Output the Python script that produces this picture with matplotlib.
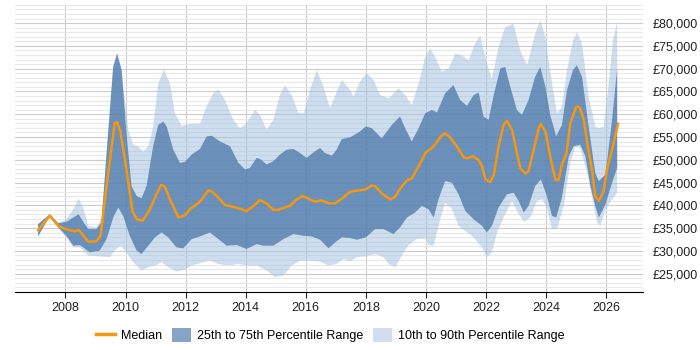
import matplotlib
matplotlib.use("Agg")
import matplotlib.pyplot as plt
import matplotlib.ticker as mticker
from matplotlib.patches import Patch
from matplotlib.lines import Line2D
import numpy as np

plt.rcParams['font.family'] = ['Liberation Sans', 'DejaVu Sans']

# median salary
med_years = [2007.09, 2007.48, 2007.76, 2008.0, 2008.31, 2008.44, 2008.76, 2009.03, 2009.17, 2009.37,
             2009.64, 2009.72, 2009.83, 2010.03, 2010.23, 2010.37, 2010.57, 2010.81, 2011.03, 2011.18,
             2011.31, 2011.48, 2011.76, 2011.98, 2012.14, 2012.48, 2012.76, 2012.89, 2013.09, 2013.31,
             2013.70, 2014.03, 2014.26, 2014.48, 2014.70, 2014.92, 2015.09, 2015.26, 2015.48, 2015.70,
             2015.89, 2016.09, 2016.31, 2016.53, 2016.76, 2016.98, 2017.20, 2017.48, 2018.0, 2018.2,
             2018.31, 2018.53, 2018.81, 2018.98, 2019.14, 2019.37, 2019.53, 2019.76, 2020.0, 2020.2,
             2020.34, 2020.48, 2020.64, 2020.81, 2021.03, 2021.26, 2021.37, 2021.57, 2021.76, 2021.87,
             2021.98, 2022.14, 2022.26, 2022.42, 2022.59, 2022.70, 2022.87, 2023.03, 2023.14, 2023.31,
             2023.42, 2023.59, 2023.76, 2023.83, 2023.98, 2024.14, 2024.31, 2024.42, 2024.53, 2024.68,
             2024.81, 2025.01, 2025.12, 2025.26, 2025.39, 2025.53, 2025.64, 2025.76, 2025.92, 2026.03,
             2026.2, 2026.4]
median = [34560, 37690, 35500, 34780, 34270, 34630, 32020, 32100, 33330, 44230,
          58040, 58260, 56230, 47870, 38780, 36960, 36600, 39140, 42410, 44450,
          44090, 41320, 37330, 37830, 39140, 40810, 43280, 42990, 41690, 40090,
          39510, 38710, 39870, 41180, 40380, 39000, 39000, 39430, 39870, 41320,
          42050, 41470, 40810, 41110, 40450, 40450, 41470, 42990, 43500, 44380,
          44230, 42630, 41320, 41900, 43650, 45470, 45900, 48590, 51650, 52590,
          53680, 54990, 55860, 54920, 52960, 50560, 50340, 50780, 49910, 48590,
          45830, 45100, 46630, 52960, 57680, 58550, 56590, 51500, 48230, 46990,
          47500, 52230, 56950, 57830, 56230, 50780, 45680, 45540, 48950, 51350,
          58040, 61670, 61530, 58770, 52960, 47870, 42050, 40960, 43140, 47870,
          52230, 57900]

# 75th percentile
p75_years = [2007.09, 2007.48, 2007.76, 2008.03, 2008.26, 2008.44, 2008.59, 2008.76, 2009.03, 2009.2,
             2009.37, 2009.59, 2009.72, 2009.87, 2010.03, 2010.2, 2010.37, 2010.53, 2010.7, 2010.92,
             2011.09, 2011.26, 2011.37, 2011.59, 2011.81, 2011.98, 2012.2, 2012.48, 2012.7, 2012.87,
             2013.14, 2013.48, 2013.76, 2013.98, 2014.14, 2014.37, 2014.48, 2014.70, 2014.92, 2015.14,
             2015.37, 2015.59, 2015.81, 2016.03, 2016.26, 2016.48, 2016.64, 2016.87, 2017.03, 2017.2,
             2017.48, 2017.81, 2018.0, 2018.2, 2018.53, 2018.87, 2019.14, 2019.31, 2019.53, 2019.76,
             2019.98, 2020.2, 2020.37, 2020.64, 2020.92, 2021.14, 2021.37, 2021.59, 2021.76, 2021.92,
             2022.09, 2022.26, 2022.48, 2022.64, 2022.81, 2023.03, 2023.2, 2023.42, 2023.64, 2023.81,
             2023.98, 2024.14, 2024.34, 2024.53, 2024.7, 2024.9, 2025.03, 2025.2, 2025.42, 2025.64,
             2025.76, 2025.98, 2026.2, 2026.37]
p75 = [35870, 38050, 36090, 36380, 37330, 38050, 36380, 34780, 34780, 36240,
       51500, 70400, 73310, 69680, 55860, 44230, 42050, 41540, 44230, 52960,
       57680, 58410, 57320, 52230, 49320, 49540, 51140, 52380, 55130, 55280,
       54050, 52960, 49320, 47870, 48230, 50410, 50190, 48960, 49680, 51140,
       52230, 52380, 51500, 50410, 51650, 52590, 51500, 50920, 52230, 54560,
       54920, 56230, 57320, 56950, 54700, 57680, 59500, 56950, 54050, 56950,
       60230, 60950, 60370, 64590, 66400, 63140, 61830, 64220, 64740, 59500,
       58770, 64220, 70040, 70400, 66040, 60950, 59860, 63140, 68220, 70400,
       66040, 59860, 55140, 57680, 65310, 69680, 70770, 68220, 57320, 47140,
       45320, 46780, 58770, 70040]

# 25th percentile
p25_years = [2007.09, 2007.48, 2007.76, 2008.03, 2008.26, 2008.48, 2008.81, 2009.14, 2009.37, 2009.59,
             2009.76, 2009.92, 2010.14, 2010.37, 2010.53, 2010.76, 2010.98, 2011.2, 2011.42, 2011.7,
             2011.92, 2012.2, 2012.48, 2012.81, 2013.09, 2013.37, 2013.70, 2014.03, 2014.37, 2014.59,
             2014.92, 2015.26, 2015.59, 2015.92, 2016.2, 2016.48, 2016.76, 2016.98, 2017.2, 2017.48,
             2017.7, 2018.0, 2018.31, 2018.59, 2018.92, 2019.14, 2019.37, 2019.64, 2019.87, 2020.09,
             2020.26, 2020.42, 2020.64, 2020.87, 2021.09, 2021.31, 2021.59, 2021.87, 2022.03, 2022.2,
             2022.42, 2022.7, 2022.92, 2023.09, 2023.26, 2023.42, 2023.64, 2023.83, 2024.03, 2024.2,
             2024.34, 2024.53, 2024.76, 2024.92, 2025.14, 2025.31, 2025.48, 2025.64, 2025.76, 2025.98,
             2026.2, 2026.37]
p25 = [33180, 37690, 35140, 33330, 31150, 31290, 29690, 30060, 32600, 37330,
       39510, 37690, 33330, 30060, 29330, 31150, 32970, 34050, 32970, 30780,
       30560, 32600, 33180, 34050, 32600, 31150, 31290, 30420, 31510, 31150,
       31150, 32600, 33690, 33330, 33180, 32450, 30560, 31870, 32970, 32820,
       32450, 32970, 34780, 34780, 33690, 35140, 37330, 38420, 39870, 39140,
       37330, 41320, 45320, 44960, 42410, 38780, 36960, 35500, 34050, 35500,
       39510, 42410, 42780, 40960, 38420, 39870, 44230, 45680, 42050, 37690,
       37330, 41690, 50780, 52960, 53320, 50780, 44230, 39870, 37330, 40240,
       44960, 48230]

# 90th percentile
p90_years = [2007.09, 2007.48, 2007.76, 2008.03, 2008.26, 2008.44, 2008.59, 2008.76, 2009.03, 2009.2,
             2009.37, 2009.59, 2009.72, 2009.87, 2010.09, 2010.26, 2010.42, 2010.59, 2010.76, 2010.92,
             2011.09, 2011.28, 2011.48, 2011.64, 2011.87, 2012.14, 2012.48, 2012.7, 2012.92, 2013.09,
             2013.31, 2013.59, 2013.81, 2014.03, 2014.31, 2014.48, 2014.70, 2014.92, 2015.14, 2015.31,
             2015.53, 2015.76, 2015.94, 2016.14, 2016.37, 2016.59, 2016.81, 2017.03, 2017.2, 2017.48,
             2017.59, 2017.81, 2018.03, 2018.26, 2018.48, 2018.76, 2019.09, 2019.31, 2019.53, 2019.76,
             2019.98, 2020.14, 2020.31, 2020.53, 2020.76, 2020.98, 2021.2, 2021.42, 2021.64, 2021.81,
             2022.03, 2022.2, 2022.42, 2022.64, 2022.92, 2023.14, 2023.37, 2023.64, 2023.81, 2023.98,
             2024.2, 2024.37, 2024.53, 2024.7, 2024.9, 2025.03, 2025.2, 2025.42, 2025.64, 2025.76,
             2025.92, 2026.09, 2026.23, 2026.37]
p90 = [35870, 38050, 36090, 36960, 39140, 41470, 39510, 35500, 35140, 36960,
       51500, 70400, 73460, 69680, 56590, 53320, 52960, 51860, 52960, 57320,
       66770, 69820, 66770, 60230, 57460, 57900, 57900, 61680, 64590, 65460,
       63140, 58770, 56950, 58040, 60950, 59860, 56590, 58770, 64220, 66400,
       64220, 60230, 60230, 65310, 69680, 66040, 61320, 64950, 67500, 65310,
       63860, 67130, 69090, 67500, 64220, 63500, 65680, 64220, 62040, 66770,
       72580, 74400, 72580, 69310, 70040, 73310, 72950, 71860, 75490, 77310,
       71130, 67860, 74760, 79130, 79850, 74040, 70770, 77670, 80580, 76950,
       66770, 60230, 61680, 69680, 76220, 78040, 75490, 63860, 57320, 56950,
       57320, 66770, 76220, 80220]

# 10th percentile
p10_years = [2007.09, 2007.48, 2007.76, 2008.03, 2008.26, 2008.48, 2008.76, 2009.14, 2009.48, 2009.64,
             2009.83, 2010.03, 2010.26, 2010.53, 2010.76, 2010.98, 2011.2, 2011.42, 2011.7, 2011.98,
             2012.2, 2012.48, 2012.81, 2013.09, 2013.42, 2013.76, 2014.03, 2014.37, 2014.70, 2014.98,
             2015.26, 2015.53, 2015.81, 2016.14, 2016.48, 2016.76, 2017.03, 2017.26, 2017.48, 2017.7,
             2018.0, 2018.31, 2018.59, 2018.76, 2018.98, 2019.2, 2019.42, 2019.7, 2019.98, 2020.09,
             2020.26, 2020.42, 2020.64, 2020.87, 2021.09, 2021.37, 2021.59, 2021.87, 2022.03, 2022.2,
             2022.37, 2022.59, 2022.87, 2023.03, 2023.26, 2023.48, 2023.7, 2023.87, 2024.03, 2024.2,
             2024.37, 2024.59, 2024.81, 2024.98, 2025.14, 2025.37, 2025.53, 2025.7, 2025.81, 2025.98,
             2026.2, 2026.37]
p10 = [33180, 37690, 35140, 32970, 30780, 30780, 28960, 28820, 28600, 30060,
       31150, 29690, 27510, 25690, 26420, 26780, 27510, 26420, 25470, 25910,
       26780, 27290, 27870, 27140, 26780, 27140, 26780, 26780, 25690, 24240,
       24600, 26780, 27870, 27870, 27650, 26780, 27140, 28240, 27730, 28600,
       28820, 29330, 28600, 27140, 26420, 28960, 31290, 32600, 32740, 31290,
       31150, 35500, 40600, 39140, 35500, 34050, 32970, 30780, 28600, 29690,
       34050, 37330, 40960, 38780, 36380, 37330, 40960, 41320, 39510, 34780,
       34780, 39870, 49320, 52960, 52590, 47140, 42050, 36240, 35500, 39140,
       41320, 42780]

x_ticks = list(range(2008, 2027, 2))
y_ticks = list(range(25000, 80001, 5000))

fig = plt.figure(figsize=(7, 3.5), dpi=100)
ax = fig.add_axes([0.021, 0.166, 0.898, 0.82])

# bands as polygons: upper edge forward, lower edge backward
ax.fill(np.concatenate([p90_years, p10_years[::-1]]), np.concatenate([p90, p10[::-1]]),
        color='#9ebfdf', alpha=0.5, lw=0, zorder=2)
ax.fill(np.concatenate([p75_years, p25_years[::-1]]), np.concatenate([p75, p25[::-1]]),
        color='#4a76a8', alpha=0.75, lw=0, zorder=3)
ax.plot(med_years, median, color='#f7960f', lw=1.8, zorder=4)

ax.set_xlim(2006.31, 2027.24)
ax.set_ylim(21000, 84000)
ax.set_xticks(x_ticks)
ax.set_yticks(y_ticks)
ax.set_yticks(range(21000, 84001, 1000), minor=True)
ax.yaxis.set_major_formatter(mticker.FuncFormatter(lambda v, p: '£{:,.0f}'.format(v)))
ax.yaxis.tick_right()
ax.tick_params(axis='y', which='both', length=0, labelsize=9, pad=7, colors='#222222')
ax.tick_params(axis='x', length=4, labelsize=9, colors='#222222')
ax.grid(axis='y', which='major', color='#cccccc', lw=0.8, zorder=0)
ax.grid(axis='y', which='minor', color='#e8e8e8', lw=0.8, zorder=0)
ax.grid(axis='x', which='major', color='#cccccc', lw=0.8, zorder=0)
ax.set_axisbelow(True)
for s in ['top', 'left', 'right']:
    ax.spines[s].set_visible(False)
ax.spines['bottom'].set_color('black')

handles = [Line2D([0], [0], color='#f7960f', lw=2.5),
           Patch(facecolor='#86a4c6'),
           Patch(facecolor='#cfdfef')]
fig.legend(handles, ['Median', '25th to 75th Percentile Range', '10th to 90th Percentile Range'],
           loc='lower center', bbox_to_anchor=(0.472, -0.01), ncol=3, frameon=False, fontsize=9,
           handlelength=1.5, handleheight=1.3, handletextpad=0.5, columnspacing=0.8)

fig.savefig('out.png', dpi=100)
